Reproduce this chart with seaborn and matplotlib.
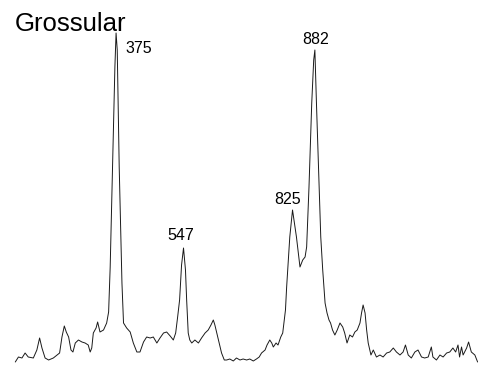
import matplotlib
matplotlib.use("Agg")
import matplotlib.pyplot as plt
import seaborn as sns
import pandas as pd

# Raman spectrum of grossular (Raman shift in cm-1, relative intensity)
raman_shift = [
    118, 126, 135, 143, 151, 164, 173, 180, 186, 190, 194, 203, 215, 231, 237,
    243, 248, 254, 260, 265, 271, 279, 288, 296, 304, 309, 313, 317, 324, 328,
    334, 343, 351, 356, 360, 368, 372, 375, 378, 383, 390, 394, 402, 411, 419,
    428, 436, 445, 453, 462, 470, 479, 487, 496, 504, 513, 521, 527, 532, 537,
    542, 547, 552, 555, 559, 563, 568, 576, 585, 593, 602, 610, 617, 623, 627,
    636, 644, 651, 657, 665, 674, 682, 691, 699, 708, 716, 725, 733, 740, 746,
    755, 760, 767, 772, 776, 783, 788, 795, 800, 803, 807, 810, 818, 825, 835,
    844, 851, 857, 861, 867, 874, 879, 882, 886, 893, 897, 902, 908, 913, 918,
    922, 927, 933, 939, 946, 953, 958, 964, 971, 978, 984, 990, 997, 1001, 1005,
    1010, 1014, 1018, 1025, 1031, 1039, 1048, 1056, 1065, 1073, 1082, 1090, 1099,
    1107, 1113, 1120, 1128, 1137, 1145, 1154, 1162, 1171, 1179, 1183, 1192, 1201,
    1209, 1218, 1226, 1234, 1241, 1247, 1251, 1256, 1260, 1269, 1274, 1281, 1290,
    1297,
]
intensity = [
    3, 8, 7, 12, 8, 7, 15, 27, 17, 12, 7, 5, 7, 12, 28,
    39, 33, 28, 15, 13, 22, 25, 23, 22, 20, 13, 17, 32, 37, 43,
    33, 35, 42, 53, 98, 232, 298, 332, 315, 198, 82, 42, 37, 33, 22,
    13, 13, 23, 28, 27, 28, 22, 27, 32, 33, 29, 25, 32, 48, 65,
    100, 117, 95, 65, 32, 25, 22, 25, 22, 27, 32, 35, 40, 45, 40,
    25, 12, 5, 5, 6, 4, 7, 5, 6, 5, 6, 4, 6, 8, 12,
    15, 20, 25, 22, 18, 22, 20, 28, 32, 42, 55, 78, 128, 155, 128,
    98, 105, 108, 118, 178, 262, 305, 315, 262, 178, 128, 95, 62, 52, 45,
    42, 35, 30, 35, 42, 38, 32, 22, 30, 28, 33, 35, 42, 52, 60,
    52, 35, 22, 10, 15, 8, 10, 8, 12, 13, 17, 13, 10,
    13, 20, 10, 7, 13, 15, 8, 7, 8, 18, 8, 5, 10,
    8, 12, 13, 17, 13, 20, 8, 18, 10, 17, 23, 13, 10,
    3,
]

# Labelled band positions and their label anchors (x, y in data units)
band_labels = ["375", "547", "825", "882"]
label_x = [398, 539, 812, 885]
label_y = [312, 125, 161, 321]
label_ha = ["left", "center", "center", "center"]

spectrum = pd.DataFrame({"shift": raman_shift, "intensity": intensity})

sns.set_style("white")
plt.rcParams["font.family"] = ["Liberation Sans", "DejaVu Sans"]

fig = plt.figure(figsize=(4.78, 3.68), dpi=100)
ax = fig.add_axes([0, 0, 1, 1])

sns.lineplot(data=spectrum, x="shift", y="intensity", ax=ax,
             color="#1a1a1a", linewidth=0.7)

for text, x, y, ha in zip(band_labels, label_x, label_y, label_ha):
    ax.text(x, y, text, ha=ha, va="baseline", fontsize=11.5, color="black")

ax.set_xlim(79, 1298)
ax.set_ylim(-3, 365)
ax.set_axis_off()

fig.text(15 / 478, 1 - 31 / 368, "Grossular", ha="left", va="baseline",
         fontsize=18.5, color="black")

fig.savefig("out.png", dpi=100, facecolor="white")
